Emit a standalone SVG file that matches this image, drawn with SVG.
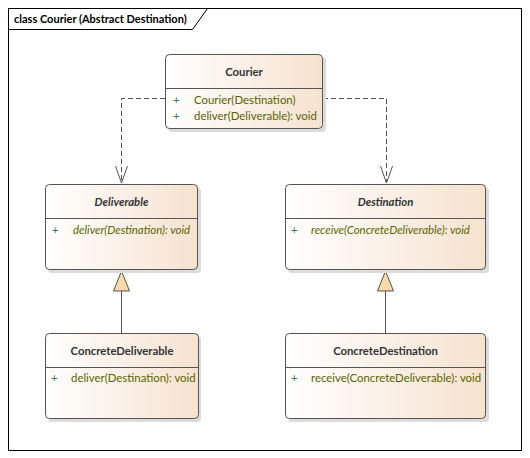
<svg xmlns="http://www.w3.org/2000/svg" width="530" height="458" viewBox="0 0 530 458">
<defs>
<linearGradient id="g" x1="0" y1="0" x2="1" y2="0">
<stop offset="0" stop-color="#ffffff"/>
<stop offset="1" stop-color="#f6e2cf"/>
</linearGradient>
</defs>
<style>
.frame{fill:none;stroke:#000;stroke-width:1}
.shadow{fill:#dcdcdc}
.box{fill:url(#g);stroke:#555;stroke-width:1}
.div{stroke:#555;stroke-width:1}
.title{font-family:Lato,"Open Sans",sans-serif;font-size:11.3px;font-weight:bold;fill:#333;text-anchor:middle}
.ftitle{font-family:Lato,"Open Sans",sans-serif;font-size:11px;font-weight:bold;fill:#000}
.it{font-style:italic}
.mem{font-family:Lato,"Open Sans",sans-serif;font-size:11.4px;fill:#5a6400}
.plus{font-family:Lato,"Open Sans",sans-serif;font-size:11.4px;fill:#2e7d5a}
.dash{fill:none;stroke:#555;stroke-width:1;stroke-dasharray:5,3}
.line{fill:none;stroke:#555;stroke-width:1}
.tri{fill:#fad9aa;stroke:#555;stroke-width:1}
</style>
<rect x="0" y="0" width="530" height="458" fill="#fff"/>
<g id="frame">
<rect class="frame" x="8.5" y="8.5" width="513" height="442"/>
<path class="frame" d="M8.5 29.5 H192.5 L207.5 8.5"/>
<text class="ftitle" x="14" y="23">class Courier (Abstract Destination)</text>
</g>
<g id="connectors">
<path class="dash" d="M165 98.5 H121.5 V183"/>
<path class="line" d="M115.5 166 L121.5 183 L127.5 166"/>
<path class="dash" d="M323 98.5 H386.5 V183"/>
<path class="line" d="M380.5 166 L386.5 183 L392.5 166"/>
<path class="line" d="M121.5 291 V333"/>
<path class="tri" d="M121.5 271 L113.5 291 H129.5 Z"/>
<path class="line" d="M385.5 291 V333"/>
<path class="tri" d="M385.5 271 L377.5 291 H393.5 Z"/>
</g>
<g id="Courier">
<rect class="shadow" x="168" y="57" width="158" height="75" rx="4"/>
<rect class="box" x="165.5" y="54.5" width="157" height="74" rx="4"/>
<line class="div" x1="165.5" y1="88.5" x2="322.5" y2="88.5"/>
<text class="title" x="244" y="76">Courier</text>
<text class="plus" x="173" y="104">+</text>
<text class="mem" x="194" y="104">Courier(Destination)</text>
<text class="plus" x="173" y="120">+</text>
<text class="mem" x="194" y="120">deliver(Deliverable): void</text>
</g>
<g id="Deliverable">
<rect class="shadow" x="48" y="187" width="153" height="86" rx="4"/>
<rect class="box" x="45.5" y="184.5" width="152" height="85" rx="4"/>
<line class="div" x1="45.5" y1="218.5" x2="197.5" y2="218.5"/>
<text class="title it" x="121.5" y="206">Deliverable</text>
<text class="plus" x="52" y="234">+</text>
<text class="mem it" x="73" y="234">deliver(Destination): void</text>
</g>
<g id="Destination">
<rect class="shadow" x="288" y="187" width="201" height="86" rx="4"/>
<rect class="box" x="285.5" y="184.5" width="200" height="85" rx="4"/>
<line class="div" x1="285.5" y1="218.5" x2="485.5" y2="218.5"/>
<text class="title it" x="385.5" y="206">Destination</text>
<text class="plus" x="291" y="234">+</text>
<text class="mem it" x="311" y="234">receive(ConcreteDeliverable): void</text>
</g>
<g id="ConcreteDeliverable">
<rect class="shadow" x="48" y="336" width="153" height="86" rx="4"/>
<rect class="box" x="45.5" y="333.5" width="153" height="85" rx="4"/>
<line class="div" x1="45.5" y1="367.5" x2="198.5" y2="367.5"/>
<text class="title" x="122" y="355">ConcreteDeliverable</text>
<text class="plus" x="51" y="382">+</text>
<text class="mem" x="71" y="382">deliver(Destination): void</text>
</g>
<g id="ConcreteDestination">
<rect class="shadow" x="288" y="336" width="201" height="86" rx="4"/>
<rect class="box" x="285.5" y="333.5" width="200" height="85" rx="4"/>
<line class="div" x1="285.5" y1="367.5" x2="485.5" y2="367.5"/>
<text class="title" x="385.5" y="355">ConcreteDestination</text>
<text class="plus" x="291" y="382">+</text>
<text class="mem" x="311" y="382">receive(ConcreteDeliverable): void</text>
</g>
</svg>
